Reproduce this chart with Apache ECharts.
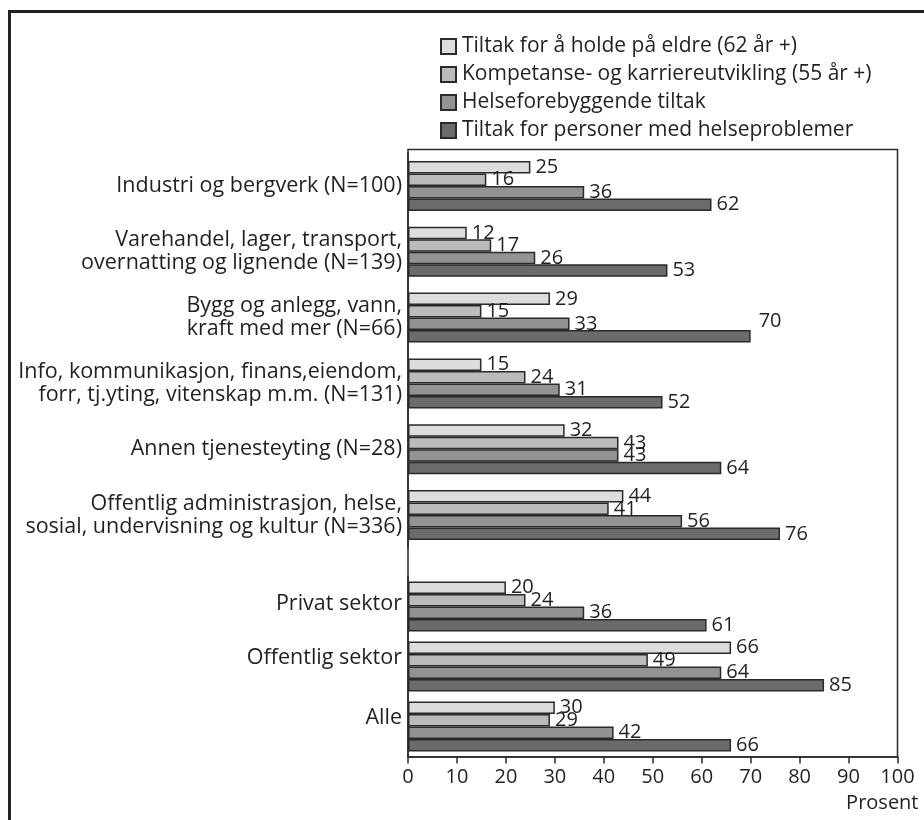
<!DOCTYPE html>
<html>
<head>
<meta charset="utf-8">
<script src="https://cdn.jsdelivr.net/npm/echarts@6/dist/echarts.min.js"></script>
<style>
  html, body { margin: 0; padding: 0; background: #fff; }
  #chart { width: 924px; height: 820px; }
</style>
</head>
<body>
<div id="chart"></div>
<script>
// ---- Data ----
const seriesNames = [
  'Tiltak for å holde på eldre (62 år +)',
  'Kompetanse- og karriereutvikling (55 år +)',
  'Helseforebyggende tiltak',
  'Tiltak for personer med helseproblemer'
];
const categoriesTop = [
  'Industri og bergverk (N=100)',
  'Varehandel, lager, transport,\novernatting og lignende (N=139)',
  'Bygg og anlegg, vann,\nkraft med mer (N=66)',
  'Info, kommunikasjon, finans,eiendom,\nforr, tj.yting, vitenskap m.m. (N=131)',
  'Annen tjenesteyting (N=28)',
  'Offentlig administrasjon, helse,\nsosial, undervisning og kultur (N=336)'
];
const categoriesBottom = ['Privat sektor', 'Offentlig sektor', 'Alle'];
// values per series, top group (6) then bottom group (3)
const eldre             = [25, 12, 29, 15, 32, 44, 20, 66, 30];
const kompetanse        = [16, 17, 15, 24, 43, 41, 24, 49, 29];
const helseforebyggende = [36, 26, 33, 31, 43, 56, 36, 64, 42];
const helseproblemer    = [62, 53, 70, 52, 64, 76, 61, 85, 66];
const xTicks = [0, 10, 20, 30, 40, 50, 60, 70, 80, 90, 100];

// ---- Styles ----
const FONT = 'Open Sans';
const TXT = '#231f20';
const TEXT_SIZE = 21.5;
const NUM_SIZE = 20;
const fills = ['#dddddd', '#bbbbbd', '#939395', '#6b6b6e'];
const allValues = [eldre, kompetanse, helseforebyggende, helseproblemer];
const nTop = categoriesTop.length;

const L = 408, R = 897.5;
const topGrid = { left: L, top: 153, width: R - L, height: 395 };
const botGrid = { left: L, top: 576.5, width: R - L, height: 180 };

function mkSeries(si, gridIdx) {
  const vals = gridIdx === 0 ? allValues[si].slice(0, nTop) : allValues[si].slice(nTop);
  const data = vals.map((v, i) => {
    // the "70" label (Bygg og anlegg, series 4) sits higher in the original
    if (gridIdx === 0 && si === 3 && i === 2) {
      return { value: v, label: { offset: [3, -15] } };
    }
    return v;
  });
  return {
    type: 'bar',
    name: seriesNames[si],
    xAxisIndex: gridIdx,
    yAxisIndex: gridIdx,
    data: data,
    barWidth: 12.5,
    barGap: '0%',
    itemStyle: { color: fills[si], borderColor: '#2a2a2a', borderWidth: 1.5 },
    label: {
      show: true, position: 'right', distance: 5,
      fontFamily: FONT, fontSize: NUM_SIZE, color: TXT
    },
    emphasis: { disabled: true },
    animation: false
  };
}

const series = [];
for (let g = 0; g < 2; g++) for (let s = 0; s < 4; s++) series.push(mkSeries(s, g));

const xBase = {
  type: 'value', min: xTicks[0], max: xTicks[xTicks.length - 1], interval: 10,
  splitLine: { show: false }
};

const richLow = {
  a: { fontFamily: FONT, fontSize: TEXT_SIZE, color: TXT, padding: [0, 0, 6, 0] },
  b: { fontFamily: FONT, fontSize: TEXT_SIZE, color: TXT, padding: [0, 0, 18, 0] }
};

const option = {
  backgroundColor: '#fff',
  animation: false,
  textStyle: { fontFamily: FONT },
  legend: {
    orient: 'vertical', left: 435, top: 31,
    itemWidth: 15, itemHeight: 15, itemGap: 7,
    icon: 'rect',
    data: seriesNames,
    textStyle: { fontFamily: FONT, fontSize: 21, color: TXT, padding: [0, 0, 0, 1] },
    selectedMode: false
  },
  grid: [topGrid, botGrid],
  xAxis: [
    Object.assign({}, xBase, { gridIndex: 0, show: false }),
    Object.assign({}, xBase, {
      gridIndex: 1,
      axisLine: { show: true, lineStyle: { color: '#2a2a2a', width: 1.5 } },
      axisTick: { show: true, length: 7, lineStyle: { color: '#2a2a2a', width: 1.5 } },
      axisLabel: { fontFamily: FONT, fontSize: NUM_SIZE, color: TXT, margin: 11 },
      name: 'Prosent', nameLocation: 'end', nameGap: 21,
      nameTextStyle: { fontFamily: FONT, fontSize: 20, color: TXT, align: 'right', verticalAlign: 'top', padding: [37, 0, 0, 0] }
    })
  ],
  yAxis: [
    {
      type: 'category', gridIndex: 0, inverse: true, data: categoriesTop,
      axisLine: { show: true, lineStyle: { color: '#2a2a2a', width: 1.5 } },
      axisTick: { show: false },
      axisLabel: { fontFamily: FONT, fontSize: TEXT_SIZE, color: TXT, margin: 6, lineHeight: 23, align: 'right' }
    },
    {
      type: 'category', gridIndex: 1, inverse: true, data: categoriesBottom,
      axisLine: { show: true, lineStyle: { color: '#2a2a2a', width: 1.5 } },
      axisTick: { show: false },
      axisLabel: {
        margin: 6, align: 'right',
        formatter: (v, i) => (i === 0 ? '{a|' : '{b|') + v + '}',
        rich: richLow
      }
    }
  ],
  graphic: [
    { type: 'polyline', silent: true, shape: { points: [[9.5, 830], [9.5, 11.5], [930, 11.5]] },
      style: { stroke: '#222', lineWidth: 3, fill: null } },
    { type: 'rect', silent: true, shape: { x: L, y: 149.5, width: R - L, height: 757 - 149.5 },
      style: { stroke: '#2a2a2a', lineWidth: 1.5, fill: null }, z: 10 }
  ],
  series: series
};

const chart = echarts.init(document.getElementById('chart'), null, { renderer: 'canvas' });
chart.setOption(option);
</script>
</body>
</html>
